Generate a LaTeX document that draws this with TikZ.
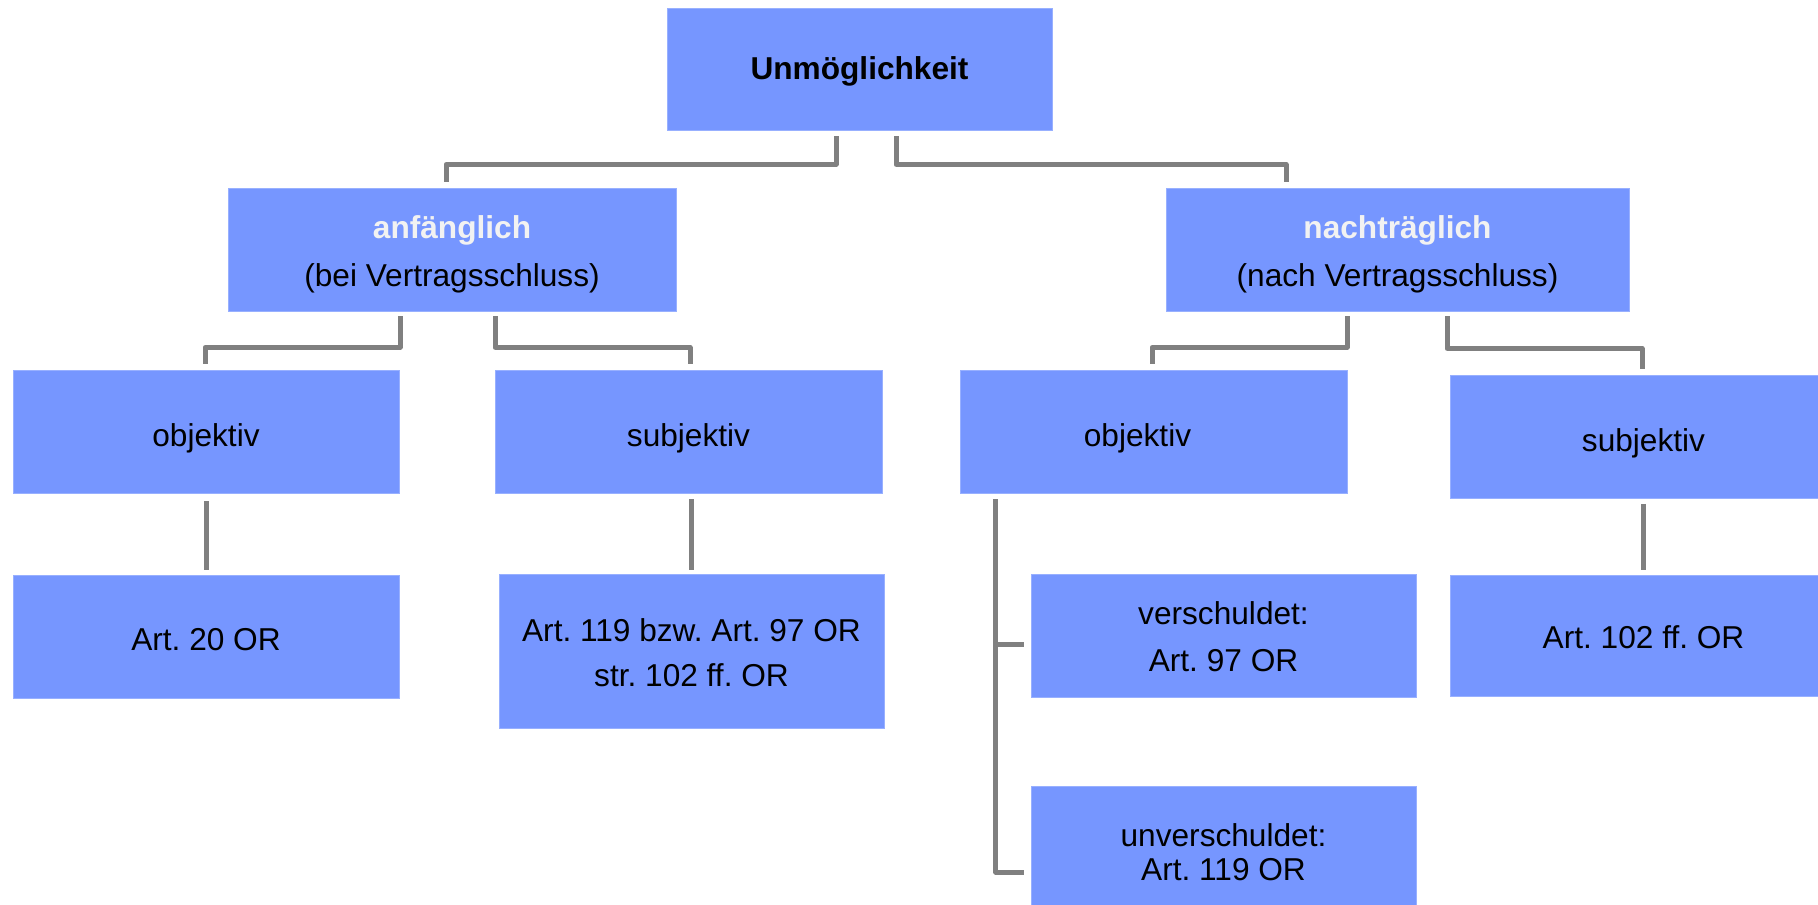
\documentclass[tikz,border=0pt]{standalone}
\usepackage{fontspec}
\setmainfont{Liberation Sans}
\usepackage{tikz}
\usetikzlibrary{positioning}
\definecolor{boxblue}{HTML}{7696FF}
\definecolor{linkgray}{HTML}{808080}
\frenchspacing
\newcommand{\lowtext}[2][0.13cm]{\raisebox{-#1}[\height][\depth]{#2}}

\begin{document}
\begin{tikzpicture}[
  box/.style={fill=boxblue, draw=boxblue!75!white, line width=0.4pt, align=center,
    inner sep=0pt, font=\fontsize{18}{25}\selectfont},
  link/.style={draw=linkgray, line width=0.1cm, line join=round},
]
\useasboundingbox (0 cm, 0 cm) rectangle (36.36 cm, -18.1 cm);
\begin{scope}
\clip (0 cm, 0 cm) rectangle (36.36 cm, -18.1 cm);
% first and second row
\node[box, minimum width=7.7cm, minimum height=2.44cm] (unm) at (17.19 cm, -1.38 cm) {\lowtext[0.05cm]{\textbf{Unmöglichkeit}}};
\node[box, minimum width=8.96cm, minimum height=2.46cm, font=\fontsize{18}{27.3}\selectfont] (anf) at (9.04 cm, -4.99 cm)
  {\lowtext[0.09cm]{\textcolor{white!95!black}{\textbf{anfänglich}}}\\\lowtext[0.09cm]{(bei Vertragsschluss)}};
\node[box, minimum width=9.26cm, minimum height=2.46cm, font=\fontsize{18}{27.3}\selectfont] (nach) at (27.95 cm, -4.99 cm)
  {\lowtext[0.09cm]{\textcolor{white!95!black}{\textbf{nachträglich}}}\\\lowtext[0.09cm]{(nach Vertragsschluss)}};
% third row
\node[box, minimum width=7.72cm, minimum height=2.46cm] (obj_a) at (4.12 cm, -8.63 cm) {\lowtext{objektiv}};
\node[box, minimum width=7.74cm, minimum height=2.46cm] (subj_a) at (13.77 cm, -8.63 cm) {\lowtext{subjektiv}};
\node[box, minimum width=7.74cm, minimum height=2.46cm] (obj_n) at (23.07 cm, -8.63 cm) {\lowtext{objektiv}\hspace*{0.64cm}};
\node[box, minimum width=7.74cm, minimum height=2.46cm] (subj_n) at (32.87 cm, -8.73 cm) {\lowtext{subjektiv}};
% fourth row
\node[box, minimum width=7.72cm, minimum height=2.47cm] (art_20) at (4.12 cm, -12.74 cm) {\lowtext[0.05cm]{Art. 20 OR}};
\node[box, minimum width=7.7cm, minimum height=3.08cm, font=\fontsize{18}{27.3}\selectfont] (art_119) at (13.83 cm, -13.03 cm)
  {\lowtext[0.05cm]{Art. 119 bzw. Art. 97 OR}\\str. 102 ff. OR};
\node[box, minimum width=7.7cm, minimum height=2.45cm, font=\fontsize{18}{25.6}\selectfont] (versch) at (24.47 cm, -12.72 cm)
  {verschuldet:\\\lowtext[0.04cm]{Art. 97 OR}};
\node[box, minimum width=7.74cm, minimum height=2.42cm] (art_102) at (32.87 cm, -12.72 cm) {\lowtext[0.03cm]{Art. 102 ff. OR}};
\node[box, minimum width=7.7cm, minimum height=2.44cm, font=\fontsize{18}{19.3}\selectfont] (unversch) at (24.47 cm, -16.95 cm)
  {\lowtext[0.09cm]{unverschuldet:}\\\lowtext[0.09cm]{Art. 119 OR}};
\end{scope}
% connectors
\draw[link] ([xshift=-0.47cm, yshift=-0.12cm]unm.south) -- ++(0,-0.56) -| ([xshift=-0.12cm, yshift=0.12cm]anf.north);
\draw[link] ([xshift=0.73cm, yshift=-0.12cm]unm.south) -- ++(0,-0.56) -| ([xshift=-2.23cm, yshift=0.12cm]nach.north);
\draw[link] ([xshift=-1.04cm, yshift=-0.1cm]anf.south) -- ++(0,-0.62) -| ([xshift=-0.02cm, yshift=0.12cm]obj_a.north);
\draw[link] ([xshift=0.86cm, yshift=-0.1cm]anf.south) -- ++(0,-0.62) -| ([xshift=0.03cm, yshift=0.12cm]subj_a.north);
\draw[link] ([xshift=-1.01cm, yshift=-0.1cm]nach.south) -- ++(0,-0.62) -| ([xshift=-0.03cm, yshift=0.12cm]obj_n.north);
\draw[link] ([xshift=0.99cm, yshift=-0.1cm]nach.south) -- ++(0,-0.64) -| ([xshift=-0.03cm, yshift=0.12cm]subj_n.north);
\draw[link] ([yshift=-0.16cm]obj_a.south) -- ([yshift=0.1cm]art_20.north);
\draw[link] ([yshift=-0.12cm]subj_a.south -| art_119.north) -- ([yshift=0.09cm]art_119.north);
\draw[link] ([yshift=-0.11cm]subj_n.south) -- ([yshift=0.11cm]art_102.north);
\draw[link] ([xshift=0.72cm, yshift=-0.12cm]obj_n.south west) |- ([xshift=-0.14cm, yshift=-0.16cm]versch.west);
\draw[link] ([xshift=0.72cm, yshift=-0.12cm]obj_n.south west) |- ([xshift=-0.14cm, yshift=-0.49cm]unversch.west);
\end{tikzpicture}
\end{document}
